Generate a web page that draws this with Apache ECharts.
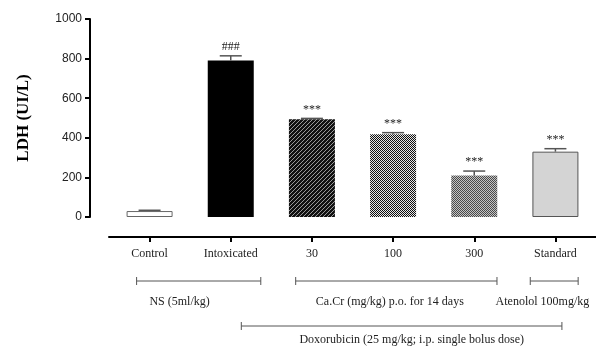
<!DOCTYPE html>
<html>
<head>
<meta charset="utf-8">
<script src="https://cdn.jsdelivr.net/npm/echarts@6/dist/echarts.min.js"></script>
<style>
  html, body { margin: 0; padding: 0; background: #fff; }
  #chart { width: 596px; height: 348px; }
</style>
</head>
<body>
<div id="chart"></div>
<script>
// LDH levels per group (UI/L)
const categories = ['Control', 'Intoxicated', '30', '100', '300', 'Standard'];
const ldhMeans = [30, 790, 494, 418, 210, 330];
const ldhErrors = [4, 24, 4, 8, 22, 15];
const significance = ['', '###', '***', '***', '***', '***'];
const yTicks = [0, 200, 400, 600, 800, 1000];

// treatment brackets under the axis (spans in category units)
const bracketLabels = ['NS (5ml/kg)', 'Ca.Cr (mg/kg) p.o. for 14 days', 'Atenolol 100mg/kg', 'Doxorubicin (25 mg/kg; i.p. single bolus dose)'];
const bracketFrom = [-0.16, 1.80, 4.69, 1.13];
const bracketTo = [1.37, 4.28, 5.28, 5.08];
const bracketTextAt = [0.37, 2.96, 4.84, 3.23];
const bracketRow = [0, 0, 0, 1];

const SERIF = '"Liberation Serif", "DejaVu Serif", serif';
const NARROW = '"Liberation Sans Narrow", "Liberation Sans", sans-serif';

function makePattern(size, draw) {
  const c = document.createElement('canvas');
  c.width = size; c.height = size;
  const ctx = c.getContext('2d');
  draw(ctx);
  return { image: c, repeat: 'repeat' };
}

const hatch = makePattern(4, ctx => {
  ctx.fillStyle = '#111';
  ctx.fillRect(0, 0, 4, 4);
  ctx.fillStyle = '#9a9a9a';
  for (let x = 0; x < 4; x++) ctx.fillRect(x, 3 - x, 1, 1);
});
const checkCoarse = makePattern(2, ctx => {
  ctx.fillStyle = '#e6e6e6';
  ctx.fillRect(0, 0, 2, 2);
  ctx.fillStyle = '#111';
  ctx.fillRect(0, 0, 1, 1);
  ctx.fillRect(1, 1, 1, 1);
});
const checkFine = makePattern(2, ctx => {
  ctx.fillStyle = '#c4c4c4';
  ctx.fillRect(0, 0, 2, 2);
  ctx.fillStyle = '#4a4a4a';
  ctx.fillRect(0, 0, 1, 1);
  ctx.fillRect(1, 1, 1, 1);
});

const barStyles = [
  { color: '#fff', borderColor: '#666', borderWidth: 1 },
  { color: '#000' },
  { color: hatch },
  { color: checkCoarse },
  { color: checkFine },
  { color: '#d4d4d4', borderColor: '#555', borderWidth: 1 }
];

const chart = echarts.init(document.getElementById('chart'));

chart.setOption({
  animation: false,
  grid: { left: 109, right: 0, top: 19, bottom: 131, containLabel: false },
  xAxis: {
    type: 'category',
    data: categories,
    offset: 20,
    axisLine: { onZero: false, lineStyle: { color: '#000', width: 2 } },
    axisTick: { show: true, alignWithLabel: true, length: 5, lineStyle: { color: '#000', width: 2 } },
    axisLabel: { color: '#222', fontFamily: SERIF, fontSize: 12, margin: 11 }
  },
  yAxis: {
    type: 'value',
    min: yTicks[0],
    max: yTicks[yTicks.length - 1],
    interval: 200,
    offset: 19,
    name: 'LDH (UI/L)',
    nameLocation: 'middle',
    nameRotate: 90,
    nameGap: 58,
    nameTextStyle: { color: '#000', fontFamily: SERIF, fontSize: 17, fontWeight: 'bold' },
    axisLine: { show: true, lineStyle: { color: '#000', width: 2 } },
    axisTick: { show: true, length: 5, lineStyle: { color: '#000', width: 2 } },
    axisLabel: { color: '#222', fontFamily: NARROW, fontSize: 12, margin: 8, formatter: v => String(v) },
    splitLine: { show: false }
  },
  series: [
    {
      type: 'bar',
      barWidth: 46,
      data: ldhMeans.map((v, i) => ({ value: v, itemStyle: barStyles[i] }))
    },
    {
      type: 'custom',
      z: 5,
      data: ldhMeans.map((v, i) => [i, v, ldhErrors[i]]),
      renderItem: (params, api) => {
        const base = api.coord([api.value(0), api.value(1)]);
        const top = api.coord([api.value(0), api.value(1) + api.value(2)]);
        const style = { stroke: '#555', lineWidth: 1.5 };
        return {
          type: 'group',
          children: [
            { type: 'line', shape: { x1: base[0], y1: base[1], x2: top[0], y2: top[1] }, style },
            { type: 'line', shape: { x1: top[0] - 11, y1: top[1], x2: top[0] + 11, y2: top[1] }, style },
            {
              type: 'text',
              style: {
                x: top[0], y: top[1] - 3,
                text: significance[params.dataIndex],
                align: 'center', verticalAlign: 'bottom',
                fill: '#222', font: '12px ' + SERIF
              }
            }
          ]
        };
      }
    }
  ]
});

// brackets placed from the category axis positions
const x0 = chart.convertToPixel({ xAxisIndex: 0 }, 0);
const band = chart.convertToPixel({ xAxisIndex: 0 }, 1) - x0;
const toX = c => x0 + c * band;
const rowY = [281, 326];
const textY = [302, 340];
const graphics = [];
bracketLabels.forEach((label, i) => {
  const y = rowY[bracketRow[i]];
  const xa = toX(bracketFrom[i]);
  const xb = toX(bracketTo[i]);
  const s = { stroke: '#555', lineWidth: 1 };
  graphics.push(
    { type: 'line', shape: { x1: xa, y1: y, x2: xb, y2: y }, style: s },
    { type: 'line', shape: { x1: xa, y1: y - 4, x2: xa, y2: y + 4 }, style: s },
    { type: 'line', shape: { x1: xb, y1: y - 4, x2: xb, y2: y + 4 }, style: s },
    {
      type: 'text',
      x: toX(bracketTextAt[i]), y: textY[bracketRow[i]],
      style: { text: label, align: 'center', verticalAlign: 'middle', fill: '#222', font: '12px ' + SERIF }
    }
  );
});
chart.setOption({ graphic: graphics });
</script>
</body>
</html>
